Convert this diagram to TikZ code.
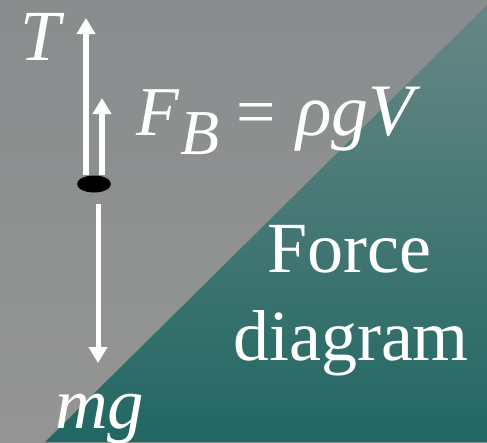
\documentclass[tikz,border=0pt]{standalone}
\usepackage{fontspec}
\setmainfont{Liberation Serif}
\usetikzlibrary{arrows.meta,shapes.geometric}
\definecolor{graytop}{RGB}{137,141,141}
\definecolor{graybot}{RGB}{148,148,148}
\definecolor{tealtop}{RGB}{104,136,133}
\definecolor{tealbot}{RGB}{33,103,99}
\tikzset{
  force/.style={draw=white, line width=6pt, -{Triangle[width=18pt,length=16pt]}},
  lbl/.style={text=white, inner sep=0pt, anchor=base west},
}
\newcommand\bigsz{\fontsize{72}{86}\selectfont}
\newcommand\midsz{\fontsize{70}{84}\selectfont}
\begin{document}
\begin{tikzpicture}[x=1pt,y=-1pt]
\useasboundingbox (0,0) rectangle (487,442);
\shade[top color=graytop, bottom color=graybot] (0,0) rectangle (487,442);
\shade[top color=tealtop, bottom color=tealbot] (492,0) -- (45,442) -- (487,442) -- (487,0) -- cycle;
% body
\node[ellipse, fill=black, minimum width=34pt, minimum height=17pt, inner sep=0pt] (dot) at (94,184) {};
\coordinate (Ttip) at (86,18);
\coordinate (FBtip) at (102,98);
\coordinate (mgtip) at (98,363);
\draw[force] (dot.north -| Ttip) -- (Ttip);
\draw[force] (dot.north -| FBtip) -- (FBtip);
\draw[force, line width=5pt, shorten <=11pt] (dot.south -| mgtip) -- (mgtip);
% labels
\node[lbl] (T) at (20,60) {\bigsz\itshape T};
\node[lbl] (F) at (136,135) {\midsz\itshape F};
\node[lbl] (B) at (180,154) {\fontsize{64}{64}\selectfont\itshape B};
\node[lbl] (eq) at (236,135) {\midsz =};
\node[lbl] (rgv) at (296,135) {\fontsize{74}{86}\selectfont\itshape ρgV};
\node[lbl] (mg) at (55,428) {\fontsize{73}{86}\selectfont\itshape mg};
\node[lbl, anchor=base] (force) at (349,272) {\bigsz Force};
\node[lbl, anchor=base] (diag) at (351,360) {\bigsz diagram};
\end{tikzpicture}
\end{document}
